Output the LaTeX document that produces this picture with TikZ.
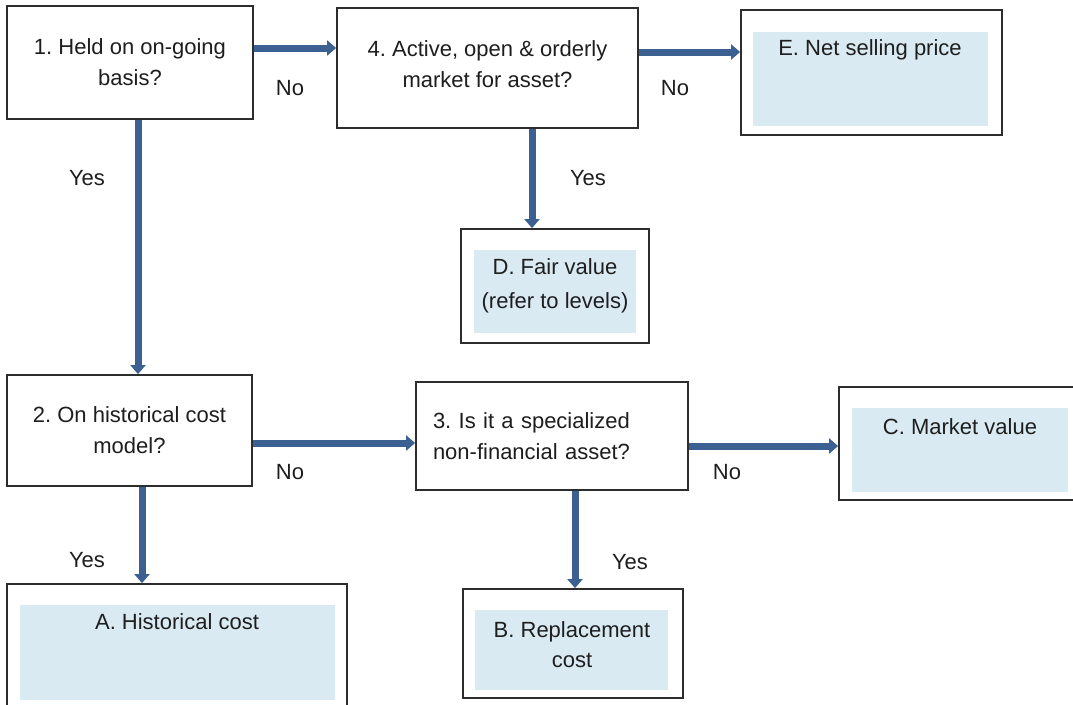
\documentclass[tikz,border=0pt]{standalone}
\usepackage{fontspec}
\setmainfont{Liberation Sans}
\usetikzlibrary{arrows.meta}
\definecolor{arrowblue}{RGB}{59,96,145}
\definecolor{fillblue}{RGB}{218,234,242}
\definecolor{edgegray}{RGB}{45,45,45}
\definecolor{textgray}{RGB}{30,30,30}
\frenchspacing
\begin{document}
\begin{tikzpicture}[x=1pt,y=-1pt,
  box/.style={draw=edgegray,line width=1.8pt,inner sep=0pt,fill=white,text=textgray,
    font=\fontsize{22}{31}\selectfont,align=center},
  lbl/.style={text=textgray,font=\fontsize{22}{30}\selectfont,inner sep=0pt,align=center},
  arr/.style={draw=arrowblue,line width=7pt,-{Triangle[length=9pt,width=15pt]}},
  inner/.style={fill=fillblue}]
\useasboundingbox (0,0) rectangle (1073,704);
\clip (0,0) rectangle (1073,704);
\fill[white] (0,0) rectangle (1073,704);

% question boxes
\node[box,minimum width=246,minimum height=113] (b1) at (130,62.5) {1. Held on on-going\\basis?};
\node[box,minimum width=301,minimum height=120] (b4) at (487.5,68) {4. Active, open \& orderly\\market for asset?\\[-23pt]};
\node[box,minimum width=245,minimum height=111] (b2) at (129.5,430.5) {2. On historical cost\\model?};
\node[box,minimum width=272,minimum height=108,text width=238,align=left] (b3) at (552,436) {3. Is it a specialized\\non-financial asset?};

% result boxes
\node[box,minimum width=261,minimum height=125] (E) at (871.5,72.5) {};
\fill[inner] (753,32) rectangle (988,126);
\node[lbl] (Et) at (870,50) {E. Net selling price};

\node[box,minimum width=188,minimum height=114] (D) at (555,286) {};
\fill[inner] (474,250) rectangle (636,333);
\node[lbl,font=\fontsize{22}{34}\selectfont] (Dt) at (555,286) {D. Fair value\\(refer to levels)};

\node[box,minimum width=243,minimum height=113] (C) at (960.5,443.5) {};
\fill[inner] (852,408) rectangle (1068,492);
\node[lbl] (Ct) at (960,427) {C. Market value};

\node[box,minimum width=340,minimum height=128] (A) at (177,648) {};
\fill[inner] (20,605) rectangle (335,700);
\node[lbl] (At) at (177,622) {A. Historical cost};

\node[box,minimum width=220,minimum height=109] (B) at (573,643.5) {};
\fill[inner] (475,610) rectangle (668,690);
\node[lbl] (Bt) at (572,645) {B. Replacement\\cost};

% connectors
\draw[arr] ([yshift=14.5pt]b1.east) -- ([yshift=20pt]b4.west);
\draw[arr] ([yshift=16pt]b4.east) -- ([yshift=20.5pt]E.west);
\draw[arr] ([xshift=8pt]b1.south) -- ([xshift=8.5pt]b2.north);
\draw[arr] ([xshift=44.5pt]b4.south) -- ([xshift=-23pt]D.north);
\draw[arr] ([yshift=-12.5pt]b2.east) -- ([yshift=-7pt]b3.west);
\draw[arr] ([yshift=-10pt]b3.east) -- ([yshift=-2.5pt]C.west);
\draw[arr] ([xshift=12.5pt]b2.south) -- ([xshift=-35pt]A.north);
\draw[arr] ([xshift=23pt]b3.south) -- ([xshift=2pt]B.north);

% connector labels
\node[lbl] (l1) at (290,88) {No};
\node[lbl] (l2) at (87,178) {Yes};
\node[lbl] (l3) at (588,178) {Yes};
\node[lbl] (l4) at (675,88) {No};
\node[lbl] (l5) at (290,472) {No};
\node[lbl] (l6) at (87,560) {Yes};
\node[lbl] (l7) at (630,562) {Yes};
\node[lbl] (l8) at (727,472) {No};
\end{tikzpicture}
\end{document}
